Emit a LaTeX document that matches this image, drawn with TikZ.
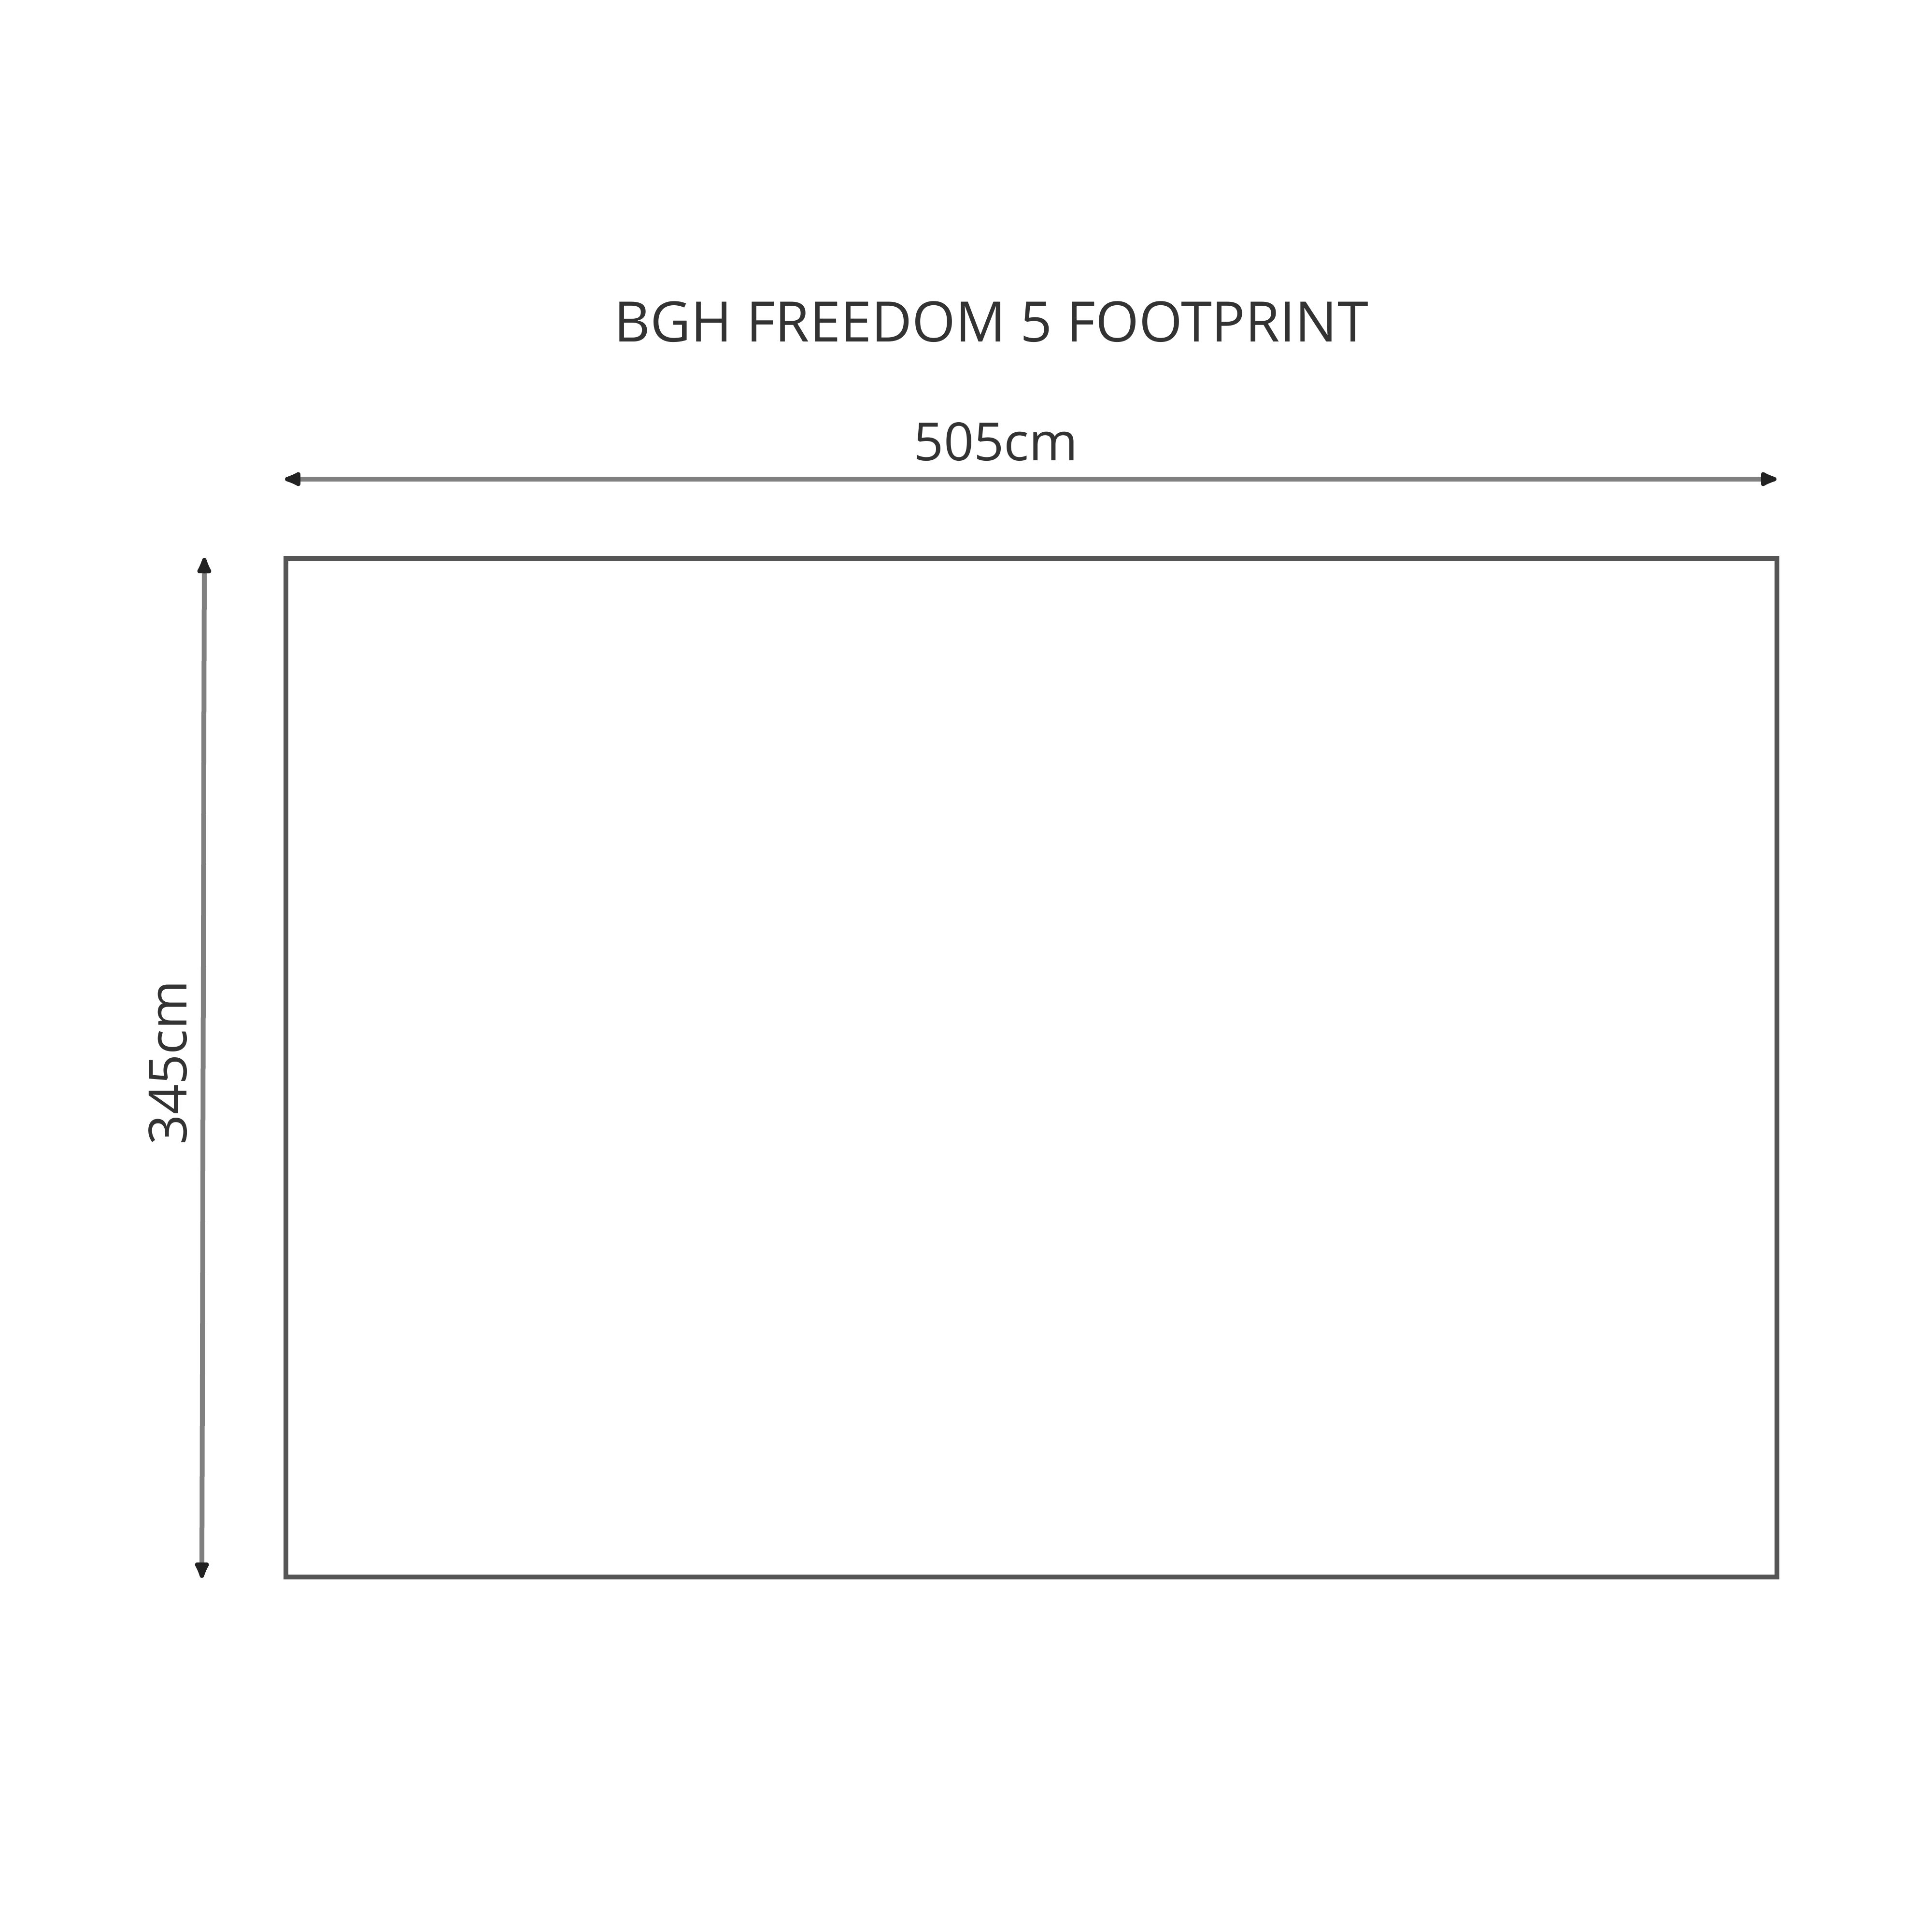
\documentclass[tikz,border=0pt]{standalone}
\usepackage{fontspec}
\setmainfont{Open Sans}
\usetikzlibrary{arrows.meta}
\definecolor{txt}{HTML}{333333}
\definecolor{rectc}{HTML}{555555}
\definecolor{dimc}{HTML}{808080}
\definecolor{headc}{HTML}{222222}
\begin{document}
\begin{tikzpicture}[
  dimline/.style={draw=dimc, line width=0.1cm,
    {Latex[length=0.45cm,width=0.36cm,round,color=headc]}-{Latex[length=0.45cm,width=0.36cm,round,color=headc]}},
  lbl/.style={text=txt, inner sep=0pt, font=\fontsize{31}{31}\selectfont},
]
\useasboundingbox[fill=white] (0,0) rectangle (40,40);
\node[text=txt, inner sep=0pt, font=\fontsize{32.85}{33}\selectfont] (title) at (20.52,33.34) {BGH FREEDOM 5 FOOTPRINT};
\node[draw=rectc, line width=0.1cm, minimum width=30.87cm, minimum height=21.09cm, inner sep=0pt] (fp) at (21.355,17.895) {};
\coordinate (wl) at (5.90,30.08);
\coordinate (wr) at (36.78,30.08);
\draw[dimline] (wl) -- (wr);
\node[lbl] (wlab) at (20.62,30.85) {505cm};
\coordinate (ht) at (4.23,28.45);
\coordinate (hb) at (4.18,7.33);
\draw[dimline] (ht) -- (hb);
\node[lbl, rotate=90] (hlab) at (3.48,18.00) {345cm};
\end{tikzpicture}
\end{document}
